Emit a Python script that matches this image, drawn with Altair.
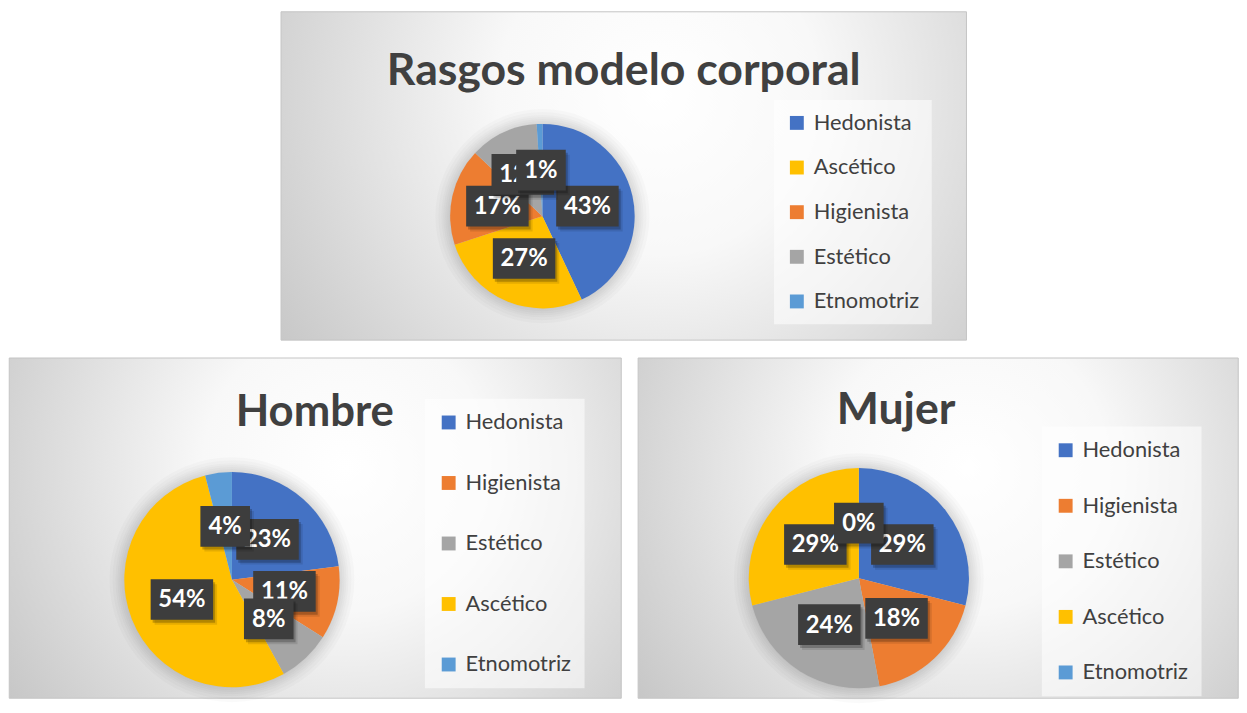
import altair as alt
import pandas as pd

# ---- data ----
categories_top = ["Hedonista", "Ascético", "Higienista", "Estético", "Etnomotriz"]
values_top = [43, 27, 17, 12, 1]
categories_gender = ["Hedonista", "Higienista", "Estético", "Ascético", "Etnomotriz"]
values_hombre = [23, 11, 8, 54, 4]
values_mujer = [29, 18, 24, 29, 0]
titles = ["Rasgos modelo corporal", "Hombre", "Mujer"]

palette = {
    "Hedonista": "#4472C4",
    "Higienista": "#ED7D31",
    "Estético": "#A5A5A5",
    "Ascético": "#FFC000",
    "Etnomotriz": "#5B9BD5",
}

FONT = "Lato"
DARK = "#404040"


def make_panel(title, cats, vals, W, H, cx, cy, R, title_x, title_base, title_size,
               leg_x, leg_y, leg_row, leg_pad, gcx, gcy):
    df = pd.DataFrame({"cat": cats, "val": vals, "idx": list(range(len(cats)))})
    df["label"] = [f"{v}%" for v in vals]
    one = pd.DataFrame({"k": [0]})

    grad = {
        "gradient": "radial",
        "x1": gcx, "y1": gcy, "r1": 0,
        "x2": gcx, "y2": gcy, "r2": 0.78,
        "stops": [
            {"offset": 0, "color": "#ffffff"},
            {"offset": 0.3, "color": "#f8f8f8"},
            {"offset": 1, "color": "#bababa"},
        ],
    }
    bg = alt.Chart(one).mark_rect(fill=grad, stroke="#c4c4c4", strokeWidth=1).encode(
        x=alt.value(0), x2=alt.value(W), y=alt.value(0), y2=alt.value(H)
    )

    halos = [
        alt.Chart(one).mark_arc(theta=0, theta2=6.2832, outerRadius=R + d,
                                color="black", opacity=0.018).encode(
            x=alt.value(cx), y=alt.value(cy))
        for d in (15, 12, 9, 7, 5, 3, 1)
    ]

    pie = alt.Chart(df).mark_arc(outerRadius=R).encode(
        theta=alt.Theta("val:Q", stack=True),
        order=alt.Order("idx:Q"),
        color=alt.Color(
            "cat:N",
            scale=alt.Scale(domain=cats, range=[palette[c] for c in cats]),
            legend=alt.Legend(
                orient="none", legendX=leg_x, legendY=leg_y, title=None,
                direction="vertical",
                symbolType="square", symbolSize=196, symbolStrokeWidth=0,
                labelFont=FONT, labelFontSize=22, labelColor=DARK,
                labelOffset=6, rowPadding=leg_row, padding=leg_pad,
                fillColor="rgba(255,255,255,0.55)", labelLimit=300,
            ),
        ),
        x=alt.value(cx), y=alt.value(cy),
    )

    xsc = alt.Scale(domain=[-1, 1], range=[cx - R, cx + R], nice=False, zero=False)
    ysc = alt.Scale(domain=[-1, 1], range=[cy - R, cy + R], nice=False, zero=False)

    lab_base = (
        alt.Chart(df)
        .transform_window(cum="sum(val)", sort=[alt.SortField("idx")], frame=[None, 0])
        .transform_joinaggregate(total="sum(val)")
        .transform_calculate(
            mid="2*PI*(datum.cum - datum.val/2)/datum.total",
        )
        .transform_calculate(
            px="0.5*sin(datum.mid)",
            py="-0.5*cos(datum.mid)",
            bw=f"(24 + 13*length(datum.label))/(2*{R})",
            bh=f"41/(2*{R})",
        )
        .transform_calculate(
            bx1="datum.px - datum.bw", bx2="datum.px + datum.bw",
            by1="datum.py - datum.bh", by2="datum.py + datum.bh",
        )
    )

    label_layers = []
    for i in range(len(cats)):
        b = lab_base.transform_filter(f"datum.idx == {i}")
        enc_box = dict(
            x=alt.X("bx1:Q", scale=xsc, axis=None), x2="bx2:Q",
            y=alt.Y("by1:Q", scale=ysc, axis=None), y2="by2:Q",
        )
        label_layers.append(b.mark_rect(color="black", opacity=0.10, xOffset=4, yOffset=5,
                                        x2Offset=4, y2Offset=5).encode(**enc_box))
        label_layers.append(b.mark_rect(color="black", opacity=0.22, xOffset=2, yOffset=3,
                                        x2Offset=2, y2Offset=3).encode(**enc_box))
        label_layers.append(b.mark_rect(color="#3d3d3d").encode(**enc_box))
        label_layers.append(
            b.mark_text(font=FONT, fontWeight="bold", fontSize=24, color="white",
                        align="center", baseline="middle", dy=1).encode(
                x=alt.X("px:Q", scale=xsc, axis=None),
                y=alt.Y("py:Q", scale=ysc, axis=None),
                text="label:N",
            )
        )

    title_mark = alt.Chart(one).mark_text(
        text=title, font=FONT, fontWeight="bold", fontSize=title_size, color=DARK,
        align="center", baseline="alphabetic",
    ).encode(x=alt.value(title_x), y=alt.value(title_base))

    return alt.layer(bg, *halos, pie, *label_layers, title_mark).properties(width=W, height=H)


top = make_panel(titles[0], categories_top, values_top, 691, 331,
                 263.5, 206, 93, 345.5, 74, 45, 497, 89, 23, 12, 0.55, 0.38)
left = make_panel(titles[1], categories_gender, values_hombre, 617, 343,
                  224.5, 223.5, 108.5, 308, 69, 44, 419, 41, 39, 13, 0.55, 0.4)
right = make_panel(titles[2], categories_gender, values_mujer, 605, 343,
                   222.5, 222, 111, 260, 67, 45, 407, 69, 34, 13, 0.55, 0.4)

bottom = alt.hconcat(left, right, spacing=15).resolve_scale(
    color="independent", theta="independent", x="independent", y="independent"
).resolve_legend(color="independent")

chart = (
    alt.vconcat(top, bottom, spacing=16, center=True)
    .resolve_scale(color="independent", theta="independent", x="independent", y="independent")
    .resolve_legend(color="independent")
    .properties(padding=0, background="white")
    .configure_view(stroke=None)
)

chart.save("out.html", embed_options={"renderer": "svg", "actions": False})
